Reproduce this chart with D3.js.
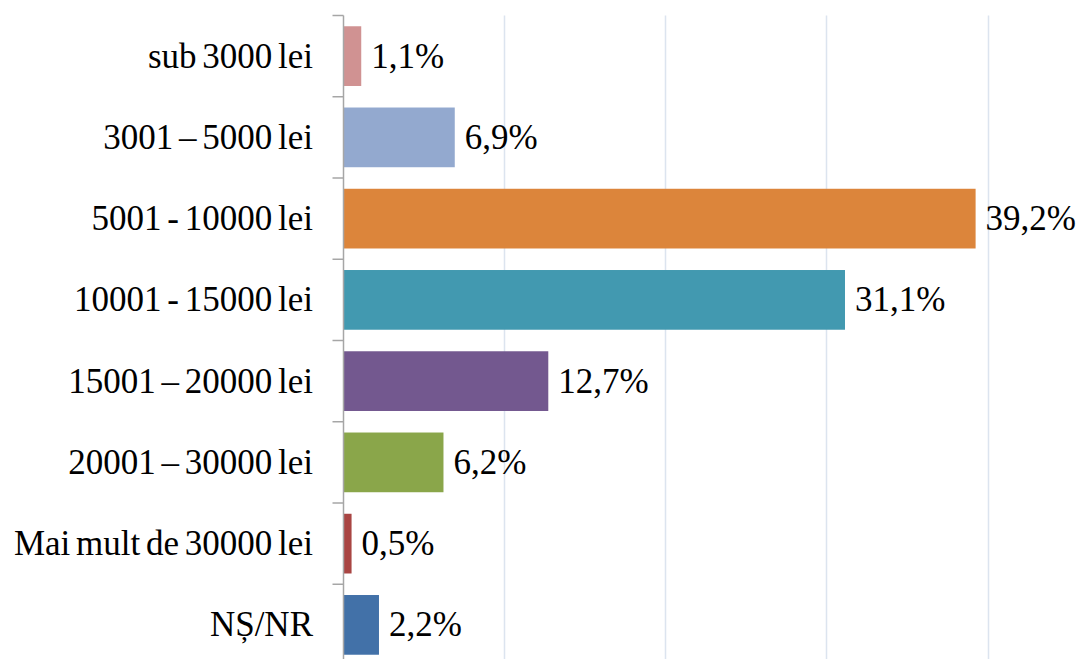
<!DOCTYPE html>
<html>
<head>
<meta charset="utf-8">
<script src="https://cdn.jsdelivr.net/npm/d3@7"></script>
<style>
  html, body { margin: 0; padding: 0; background: #fff; }
  svg { display: block; }
</style>
</head>
<body>
<svg id="chart" width="1080" height="659"></svg>
<script>
const categories = ["sub 3000 lei", "3001 – 5000 lei", "5001 - 10000 lei", "10001 - 15000 lei",
  "15001 – 20000 lei", "20001 – 30000 lei", "Mai mult de 30000 lei", "NȘ/NR"];
const values = [1.1, 6.9, 39.2, 31.1, 12.7, 6.2, 0.5, 2.2];
const valueLabels = ["1,1%", "6,9%", "39,2%", "31,1%", "12,7%", "6,2%", "0,5%", "2,2%"];
const colors = ["#D09292", "#93A9CF", "#DC853B", "#4299B0", "#73588F", "#8AA64A", "#A94543", "#4271A8"];
const gridTicks = [10, 20, 30, 40];

(function () {
const svg = d3.select("#chart");
const x0 = 343.5, plotTop = 15.5, plotBottom = 665.5;
const fontFam = "'Liberation Serif', 'Times New Roman', serif";

const x = d3.scaleLinear().domain([0, 40]).range([x0, 988.5]);
const y = d3.scaleBand().domain(categories).range([plotTop, plotBottom])
  .paddingInner(0.265).paddingOuter(0.1325);

// gridlines
svg.append("g").selectAll("line").data(gridTicks).join("line")
  .attr("x1", d => Math.round(x(d)) - 0.5).attr("x2", d => Math.round(x(d)) - 0.5)
  .attr("y1", plotTop).attr("y2", plotBottom)
  .attr("stroke", "#DCE4EF").attr("stroke-width", 1.5);

// bars
svg.append("g").selectAll("rect").data(values).join("rect")
  .attr("x", x(0))
  .attr("y", (d, i) => y(categories[i]))
  .attr("width", d => x(d) - x(0))
  .attr("height", y.bandwidth())
  .attr("fill", (d, i) => colors[i]);

// value labels
svg.append("g").selectAll("text").data(values).join("text")
  .attr("x", d => x(d) + 10)
  .attr("y", (d, i) => y(categories[i]) + y.bandwidth() / 2 + 11.5)
  .style("font-family", fontFam)
  .style("font-size", "35px")
  .attr("fill", "#000")
  .text((d, i) => valueLabels[i]);

// axis line and tick marks at band boundaries
const axisG = svg.append("g");
axisG.append("line")
  .attr("x1", x0).attr("x2", x0).attr("y1", plotTop).attr("y2", plotBottom)
  .attr("stroke", "#A6A6A6").attr("stroke-width", 1.5);
const boundaries = d3.range(categories.length + 1).map(i => plotTop + i * (plotBottom - plotTop) / categories.length);
axisG.selectAll("line.tick").data(boundaries).join("line")
  .attr("class", "tick")
  .attr("x1", x0 - 11).attr("x2", x0)
  .attr("y1", d => d).attr("y2", d => d)
  .attr("stroke", "#A6A6A6").attr("stroke-width", 1.5);

// category labels
axisG.selectAll("text.cat").data(categories).join("text")
  .attr("class", "cat")
  .attr("x", 313)
  .attr("y", d => y(d) + y.bandwidth() / 2 + 11.5)
  .attr("text-anchor", "end")
  .style("font-family", fontFam)
  .style("font-size", "35px")
  .style("word-spacing", "-3px")
  .attr("fill", "#000")
  .text(d => d);
})();
</script>
</body>
</html>
